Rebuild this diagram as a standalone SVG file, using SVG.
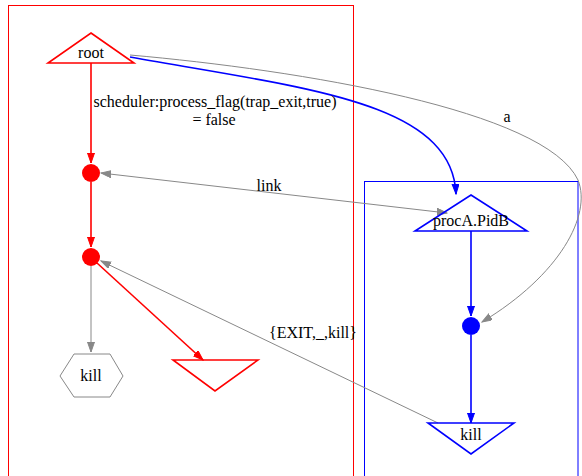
<svg xmlns="http://www.w3.org/2000/svg" width="582" height="476" viewBox="0 0 582 476">
<style>
text{font-family:"Liberation Serif","Times New Roman",serif;font-size:16px;fill:#000;text-anchor:middle}
.red{stroke:#f00;fill:none}
.blue{stroke:#00f;fill:none}
.gray{stroke:#888;fill:none;stroke-width:1}
.e2{stroke-width:1.6}
</style>
<defs>
<marker id="ar" markerUnits="userSpaceOnUse" markerWidth="11" markerHeight="8" refX="10" refY="3.5" orient="auto"><path d="M0,0L10,3.5L0,7z" fill="#f00" stroke="#f00"/></marker>
<marker id="ab" markerUnits="userSpaceOnUse" markerWidth="11" markerHeight="8" refX="10" refY="3.5" orient="auto"><path d="M0,0L10,3.5L0,7z" fill="#00f" stroke="#00f"/></marker>
<marker id="ag" markerUnits="userSpaceOnUse" markerWidth="11" markerHeight="8" refX="10" refY="3.5" orient="auto-start-reverse"><path d="M0,0L10,3.5L0,7z" fill="#888" stroke="#888"/></marker>
</defs>
<g id="clusterA"><rect x="8.5" y="5.5" width="345" height="480" class="red"/></g>
<g id="clusterB"><rect x="364.5" y="181.5" width="213.5" height="300" class="blue"/></g>
<g id="edges">
<path d="M91,63V163" class="red e2" marker-end="url(#ar)"/>
<path d="M91,182V247" class="red e2" marker-end="url(#ar)"/>
<path d="M91,266V352" class="gray" marker-end="url(#ag)"/>
<path d="M97,263L203,360" class="red e2" marker-end="url(#ar)"/>
<path d="M130,57C300,88 452,100 456,194" class="blue e2" marker-end="url(#ab)"/>
<path d="M130,55C300,70 545,110 578,180C592,215 560,275 482,322" class="gray" marker-end="url(#ag)"/>
<path d="M101,173L447,213" class="gray" marker-start="url(#ag)" marker-end="url(#ag)"/>
<path d="M438,423L101,261" class="gray" marker-end="url(#ag)"/>
<path d="M471,231V316" class="blue e2" marker-end="url(#ab)"/>
<path d="M471,335V423" class="blue e2" marker-end="url(#ab)"/>
<text x="215" y="107">scheduler:process_flag(trap_exit,true)</text>
<text x="214" y="125">= false</text>
<text x="269" y="191">link</text>
<text x="507" y="122">a</text>
<text x="313" y="338">{EXIT,_,kill}</text>
</g>
<g id="root"><path d="M91,33L134,63H48z" class="red e2"/><text x="91" y="58">root</text></g>
<g id="n1"><circle cx="91" cy="173" r="9" fill="#f00"/></g>
<g id="n2"><circle cx="91" cy="257" r="9" fill="#f00"/></g>
<g id="kill1"><path d="M60,376L74,354H110L123,376L110,397H74z" class="gray" stroke-width="1.6"/><text x="91" y="381">kill</text></g>
<g id="n3"><path d="M173,360H258L215,391z" class="red e2"/></g>
<g id="procA"><path d="M471,195L527,231H415z" class="blue e2"/><text x="471" y="226">procA.PidB</text></g>
<g id="n4"><circle cx="471" cy="326" r="9" fill="#00f"/></g>
<g id="kill2"><path d="M428,423H514L471,454z" class="blue e2"/><text x="471" y="440">kill</text></g>
</svg>
